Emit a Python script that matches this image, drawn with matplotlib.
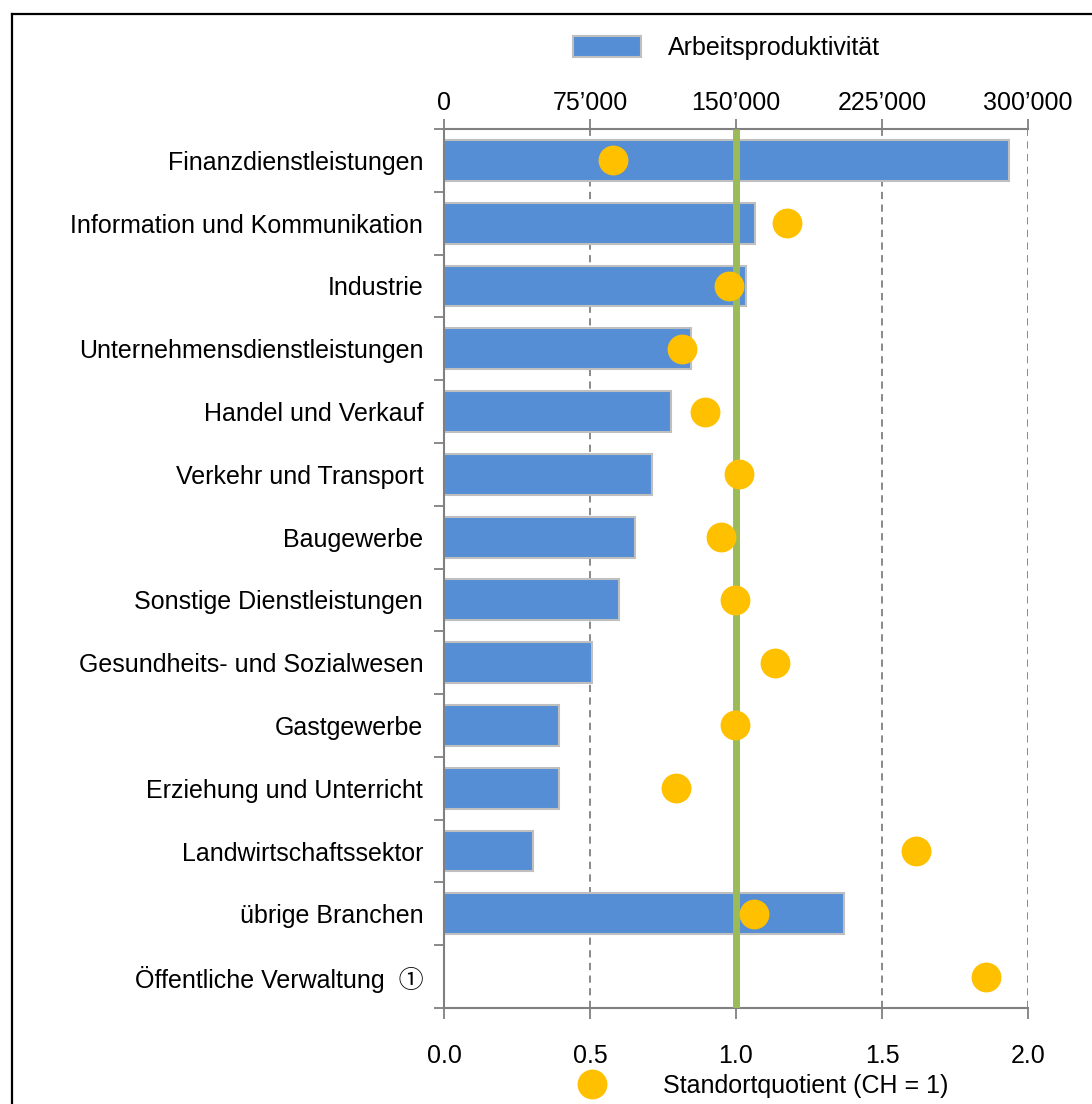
import matplotlib
matplotlib.use("Agg")
import matplotlib.pyplot as plt
from matplotlib.lines import Line2D
import numpy as np

plt.rcParams['font.family'] = ['Liberation Sans', 'Noto Sans CJK JP', 'DejaVu Sans']

categories = [
    "Finanzdienstleistungen",
    "Information und Kommunikation",
    "Industrie",
    "Unternehmensdienstleistungen",
    "Handel und Verkauf",
    "Verkehr und Transport",
    "Baugewerbe",
    "Sonstige Dienstleistungen",
    "Gesundheits- und Sozialwesen",
    "Gastgewerbe",
    "Erziehung und Unterricht",
    "Landwirtschaftssektor",
    "übrige Branchen",
    "Öffentliche Verwaltung  \u2460",
]
arbeitsproduktivitaet = [290000, 160000, 155000, 127000, 116500, 107000, 98000, 90000,
                         76000, 59000, 59000, 45500, 205500, np.nan]
standortquotient = [0.58, 1.175, 0.975, 0.815, 0.895, 1.01, 0.95, 0.995,
                    1.135, 0.995, 0.795, 1.615, 1.06, 1.855]

top_ticks = [0, 75000, 150000, 225000, 300000]
top_tick_labels = ["0", "75\u2019000", "150\u2019000", "225\u2019000", "300\u2019000"]
bottom_ticks = [0.0, 0.5, 1.0, 1.5, 2.0]
bottom_tick_labels = ["0.0", "0.5", "1.0", "1.5", "2.0"]
reference_value = 1.0

W, H = 1092, 1104
fig = plt.figure(figsize=(W / 100, H / 100), dpi=100)
fig.patch.set_facecolor("white")

# frame (left & top visible)
fig.add_artist(Line2D([12 / W, 12 / W], [0, 1 - 14 / H], color="black", lw=1.6))
fig.add_artist(Line2D([12 / W, 1], [1 - 14 / H, 1 - 14 / H], color="black", lw=1.6))

l, r, t, b = 444, 1028, 129, 1008
ax = fig.add_axes([l / W, 1 - b / H, (r - l) / W, (b - t) / H])
ax2 = ax.twiny()

FS = 18
gray = "#808080"
y = np.arange(len(categories))

bars = ax.barh(y, arbeitsproduktivitaet, height=0.65, color="#558ED5",
               edgecolor="#BFBFBF", linewidth=1.5, zorder=2, label="Arbeitsproduktivität")
ax.set_xlim(0, 300000)
ax.set_ylim(len(categories) - 0.5, -0.5)
ax.xaxis.tick_top()
ax.set_xticks(top_ticks)
ax.set_xticklabels(top_tick_labels, fontsize=FS)
ax.tick_params(axis="x", direction="out", length=7, width=1.3, color=gray, pad=3)
ax.grid(axis="x", color=gray, linestyle=(0, (4, 3)), linewidth=1.3, zorder=0)
ax.set_axisbelow(True)

ax.set_yticks(y)
ax.set_yticklabels(categories, fontsize=FS)
ax.set_yticks(np.arange(-0.5, len(categories), 1), minor=True)
ax.tick_params(axis="y", which="major", length=0, pad=15)
ax.tick_params(axis="y", which="minor", direction="out", length=7, width=1.3, color=gray)

for s in ["right", "bottom"]:
    ax.spines[s].set_visible(False)
for s in ["left", "top"]:
    ax.spines[s].set_color(gray)
    ax.spines[s].set_linewidth(1.5)

ax2.set_xlim(0, 2)
ax2.xaxis.tick_bottom()
ax2.set_xticks(bottom_ticks)
ax2.set_xticklabels(bottom_tick_labels, fontsize=FS)
ax2.tick_params(axis="x", direction="out", length=8, width=1.3, color=gray, pad=18)
for s in ["right", "top", "left"]:
    ax2.spines[s].set_visible(False)
ax2.spines["bottom"].set_color(gray)
ax2.spines["bottom"].set_linewidth(1.5)
ax2.axvline(reference_value, color="#9BBB59", lw=5, zorder=3, solid_capstyle="butt")
dots, = ax2.plot(standortquotient, y, "o", color="#FFC000", markersize=21.5,
                 markeredgewidth=0, zorder=4, linestyle="none",
                 label="Standortquotient (CH = 1)")

fig.legend(handles=[bars], loc="center left", bbox_to_anchor=(573 / W, 1 - 48 / H),
           frameon=False, fontsize=FS, borderpad=0, borderaxespad=0,
           handlelength=2.7, handleheight=0.9, handletextpad=1.1)
fig.legend(handles=[dots], loc="center left", bbox_to_anchor=(559 / W, 1 - 1086 / H),
           frameon=False, fontsize=FS, borderpad=0, borderaxespad=0,
           handlelength=2.6, handletextpad=1.55, markerscale=1.0)

fig.savefig("out.png", dpi=100, facecolor="white")
